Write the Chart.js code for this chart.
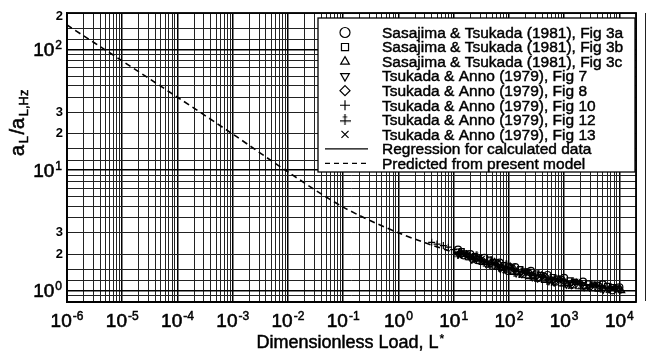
<!DOCTYPE html>
<html>
<head>
<meta charset="utf-8">
<script src="https://cdn.jsdelivr.net/npm/chart.js@4.4.0/dist/chart.umd.min.js"></script>
<style>
  html, body { margin: 0; background: #fff; overflow: hidden; }
  #chart { display: block; }
</style>
</head>
<body>
<canvas id="chart" width="647" height="352"></canvas>
<script>
// axis ranges and tick labels
const xMin = 1e-6, xMax = 2e4;
const yMin = 0.8, yMax = 200;
const xPowers = [-6, -5, -4, -3, -2, -1, 0, 1, 2, 3, 4];
const yPowers = [0, 1, 2];
const yMinorValues = [2, 3, 20, 30, 200];
const yMinorText = ['2', '3', '2', '3', '2'];
const xGridSteps = [1, 2, 3, 4, 5, 6, 7, 8, 9];
const yGridSteps = [1, 1.2, 1.5, 2, 3, 4, 5, 6, 7, 8, 9];

// measured points [L*, aL/aLHz]
const fig3a = [[12,2.18],[15,1.95],[20,2.0],[27,1.78],[36,1.86],[50,1.6],[68,1.7],[95,1.45],[130,1.56],[180,1.36],[250,1.45],[350,1.27],[500,1.34],[700,1.18],[1000,1.27],[1500,1.12],[2200,1.18],[3300,1.06],[5000,1.12],[7500,1.0],[10000,1.06]];
const fig3b = [[11,2.1],[14,2.12],[18,1.88],[24,1.92],[32,1.72],[44,1.8],[60,1.56],[82,1.62],[115,1.42],[160,1.5],[220,1.31],[310,1.38],[430,1.22],[620,1.29],[880,1.14],[1250,1.21],[1800,1.08],[2700,1.14],[4000,1.03],[6000,1.09],[9000,1.02]];
const fig3c = [[13,2.05],[17,1.98],[22,1.86],[30,1.82],[40,1.7],[55,1.72],[75,1.52],[105,1.58],[145,1.4],[200,1.42],[280,1.3],[390,1.33],[560,1.2],[800,1.24],[1150,1.13],[1650,1.16],[2400,1.07],[3600,1.1],[5400,1.03],[8200,1.05],[11000,0.99]];
const fig7 = [[12,2.0],[16,2.06],[21,1.8],[28,1.9],[38,1.66],[52,1.75],[70,1.5],[98,1.6],[135,1.38],[190,1.46],[265,1.28],[370,1.36],[530,1.19],[750,1.27],[1100,1.11],[1550,1.19],[2300,1.06],[3400,1.13],[5100,1.01],[7600,1.08]];
const fig8 = [[14,2.0],[19,1.92],[26,1.84],[34,1.76],[46,1.66],[64,1.66],[88,1.5],[120,1.52],[170,1.36],[235,1.4],[330,1.25],[460,1.3],[660,1.16],[940,1.22],[1350,1.1],[1950,1.15],[2900,1.05],[4300,1.1],[6500,1.02],[9800,1.04]];
const fig10 = [[4,2.5],[5,2.42],[6.5,2.35],[8,2.28],[10,2.18],[13,2.1],[17,2.02],[23,1.85],[31,1.8],[42,1.64],[58,1.68],[80,1.47],[110,1.54],[155,1.35],[215,1.41],[300,1.26],[420,1.31],[600,1.17],[860,1.22],[1250,1.1]];
const fig12 = [[12,1.95],[15,2.04],[20,1.84],[26,1.96],[35,1.68],[48,1.78],[66,1.53],[90,1.64],[125,1.4],[175,1.48],[245,1.29],[345,1.37],[490,1.2],[700,1.27],[1000,1.12],[1450,1.19],[2100,1.06],[3100,1.12],[4600,1.02],[7000,1.07],[10500,1.0]];
const fig13 = [[13,1.92],[18,2.0],[24,1.76],[33,1.84],[45,1.62],[62,1.7],[85,1.46],[118,1.57],[165,1.34],[230,1.44],[320,1.24],[450,1.32],[640,1.15],[910,1.23],[1300,1.08],[1900,1.16],[2800,1.04],[4200,1.1],[6300,1.0],[9500,1.06]];
// lines
const regression = [[10,2.02],[30,1.75],[100,1.50],[300,1.33],[1000,1.20],[3000,1.11],[10000,1.03]];
const predicted = [[1e-6,159],[1e-5,80],[1e-4,40],[1e-3,19.8],[1e-2,9.6],[1e-1,4.9],[1,3.0],[10,2.07],[100,1.55],[1000,1.23],[10000,1.05]];

const legendLabels = [
    'Sasajima & Tsukada (1981), Fig 3a',
    'Sasajima & Tsukada (1981), Fig 3b',
    'Sasajima & Tsukada (1981), Fig 3c',
    'Tsukada & Anno (1979), Fig 7',
    'Tsukada & Anno (1979), Fig 8',
    'Tsukada & Anno (1979), Fig 10',
    'Tsukada & Anno (1979), Fig 12',
    'Tsukada & Anno (1979), Fig 13',
    'Regression for calculated data',
    'Predicted from present model'
];

const FONT = '"Liberation Sans", Arial, sans-serif';

// "+" with an extra short bar, drawn on a small canvas
function makeDoubleCross(size, lw) {
    const c = document.createElement('canvas');
    c.width = size; c.height = size;
    const g = c.getContext('2d');
    g.strokeStyle = '#000';
    g.lineWidth = lw;
    const m = size / 2;
    g.beginPath();
    g.moveTo(m, 0); g.lineTo(m, size);
    g.moveTo(0, size * 0.6); g.lineTo(size, size * 0.6);
    g.moveTo(size * 0.3, size * 0.25); g.lineTo(size * 0.7, size * 0.25);
    g.stroke();
    return c;
}
const dblCrossSmall = makeDoubleCross(8, 1.2);
const dblCrossBig = makeDoubleCross(11, 1.2);

const toPts = arr => arr.map(p => ({ x: p[0], y: p[1] }));

// marker styles, in legend order
const markerStyles = [
    { pointStyle: 'circle', rotation: 0 },
    { pointStyle: 'rect', rotation: 0 },
    { pointStyle: 'triangle', rotation: 0 },
    { pointStyle: 'triangle', rotation: 180 },
    { pointStyle: 'rectRot', rotation: 0 },
    { pointStyle: 'cross', rotation: 0 },
    { pointStyle: dblCrossSmall, rotation: 0 },
    { pointStyle: 'crossRot', rotation: 0 }
];
const seriesData = [fig3a, fig3b, fig3c, fig7, fig8, fig10, fig12, fig13];

const datasets = seriesData.map((d, i) => ({
    label: legendLabels[i],
    data: toPts(d),
    showLine: false,
    pointStyle: markerStyles[i].pointStyle,
    rotation: markerStyles[i].rotation,
    pointRadius: 3.5,
    borderColor: '#000',
    backgroundColor: 'rgba(0,0,0,0)',
    borderWidth: 1.2
}));
datasets.push({
    label: legendLabels[8],
    data: toPts(regression),
    showLine: true,
    pointRadius: 0,
    borderColor: '#000',
    borderWidth: 1.3,
    tension: 0.3
});
datasets.push({
    label: legendLabels[9],
    data: toPts(predicted),
    showLine: true,
    pointRadius: 0,
    borderColor: '#000',
    borderWidth: 1.6,
    borderDash: [6, 4],
    tension: 0.3
});

// grid positions (1..9 per decade)
const xGrid = [];
for (let p = -6; p <= 4; p++) xGridSteps.forEach(s => xGrid.push(s * Math.pow(10, p)));
xGrid.push(xMax);
const yGrid = [yMin, 0.9];
for (let p = 0; p <= 2; p++) yGridSteps.forEach(s => { const v = s * Math.pow(10, p); if (v <= yMax) yGrid.push(v); });

function isPow10(v) {
    const l = Math.log10(v);
    return Math.abs(l - Math.round(l)) < 1e-9;
}

// text a bit heavier, like the printed figure
function inkText(ctx, s, x, y, w) {
    ctx.fillText(s, x, y);
    ctx.lineWidth = w;
    ctx.strokeStyle = '#000';
    ctx.strokeText(s, x, y);
}

// "10" with a raised exponent
function drawPower(ctx, p, x, baseline, align) {
    ctx.font = '19px ' + FONT;
    const w1 = ctx.measureText('10').width;
    ctx.font = '12px ' + FONT;
    const w2 = ctx.measureText(String(p)).width;
    const total = w1 + w2 + 1;
    const start = align === 'right' ? x - total : x - total / 2;
    ctx.textAlign = 'left';
    ctx.font = '19px ' + FONT;
    inkText(ctx, '10', start, baseline, 0.6);
    ctx.font = '12px ' + FONT;
    inkText(ctx, String(p), start + w1 + 1, baseline - 7, 0.5);
}

const paperPlugin = {
    id: 'paper',
    afterDraw(chart) {
        const ctx = chart.ctx;
        const a = chart.chartArea;
        const xs = chart.scales.x, ys = chart.scales.y;
        ctx.save();
        // frame
        ctx.strokeStyle = '#000';
        ctx.lineWidth = 1.8;
        ctx.strokeRect(a.left, a.top, a.right - a.left, a.bottom - a.top);

        // tick labels
        ctx.fillStyle = '#000';
        ctx.textBaseline = 'alphabetic';
        xPowers.forEach(p => drawPower(ctx, p, xs.getPixelForValue(Math.pow(10, p)), a.bottom + 25, 'center'));
        yPowers.forEach(p => drawPower(ctx, p, a.left - 5, ys.getPixelForValue(Math.pow(10, p)) + 7, 'right'));
        ctx.font = 'bold 13px ' + FONT;
        ctx.textAlign = 'right';
        ctx.textBaseline = 'middle';
        yMinorValues.forEach((v, i) => {
            const py = Math.max(ys.getPixelForValue(v), a.top + 3);
            ctx.fillText(yMinorText[i], a.left - 4, py);
        });

        // x title
        ctx.textBaseline = 'alphabetic';
        ctx.font = '18px ' + FONT;
        const t = 'Dimensionless Load, L';
        const tw = ctx.measureText(t).width;
        const tx = (a.left + a.right) / 2 - tw / 2 - 4;
        ctx.textAlign = 'left';
        inkText(ctx, t, tx, a.bottom + 46, 0.5);
        ctx.font = 'bold 12px ' + FONT;
        ctx.fillText('*', tx + tw + 1, a.bottom + 41);

        // y title, rotated
        ctx.save();
        ctx.translate(24, 122);
        ctx.rotate(-Math.PI / 2);
        const parts = [['a', 20, 0], ['L', 13, 4], ['/a', 20, 0], ['L,Hz', 13, 4]];
        let len = 0;
        parts.forEach(pt => { ctx.font = pt[1] + 'px ' + FONT; len += ctx.measureText(pt[0]).width + 1.5; });
        let cx = -len / 2;
        parts.forEach(pt => {
            ctx.font = pt[1] + 'px ' + FONT;
            inkText(ctx, pt[0], cx, pt[2], 0.5);
            cx += ctx.measureText(pt[0]).width + 1.5;
        });
        ctx.restore();

        // legend box
        const bx = 318, by = a.top + 5, bw = a.right - 1 - bx, bh = 154;
        ctx.fillStyle = '#fff';
        ctx.fillRect(bx, by, bw, bh);
        ctx.strokeStyle = '#000';
        ctx.lineWidth = 1.3;
        ctx.strokeRect(bx, by, bw, bh);
        ctx.font = '15.5px ' + FONT;
        ctx.textAlign = 'left';
        ctx.textBaseline = 'middle';
        legendLabels.forEach((lbl, i) => {
            const ry = by + 14.5 + i * 14.55;
            ctx.fillStyle = '#000';
            inkText(ctx, lbl, 382, ry + 1, 0.45);
            ctx.strokeStyle = '#000';
            if (i < 8) {
                const st = markerStyles[i];
                ctx.fillStyle = 'rgba(0,0,0,0)';
                ctx.lineWidth = 1.2;
                Chart.helpers.drawPoint(ctx, {
                    pointStyle: i === 6 ? dblCrossBig : st.pointStyle,
                    rotation: st.rotation,
                    radius: 5,
                    borderWidth: 1.2
                }, 345, ry);
            } else {
                ctx.lineWidth = 1.3;
                ctx.setLineDash(i === 9 ? [5, 4] : []);
                ctx.beginPath();
                ctx.moveTo(325, ry);
                ctx.lineTo(368, ry);
                ctx.stroke();
                ctx.setLineDash([]);
            }
        });
        ctx.restore();
    }
};

const gridColor = c => isPow10(c.tick.value) ? '#000' : '#222';
const gridWidth = c => isPow10(c.tick.value) ? 1.5 : 1;

new Chart(document.getElementById('chart'), {
    type: 'scatter',
    data: { datasets: datasets },
    options: {
        responsive: false,
        animation: false,
        devicePixelRatio: 1,
        layout: { padding: { left: 67, top: 13, right: 11, bottom: 50 } },
        plugins: { legend: { display: false }, tooltip: { enabled: false } },
        scales: {
            x: {
                type: 'logarithmic',
                min: xMin, max: xMax,
                afterBuildTicks: s => { s.ticks = xGrid.map(v => ({ value: v })); },
                ticks: { display: false },
                grid: { color: gridColor, lineWidth: gridWidth, drawTicks: false },
                border: { display: true, color: '#000', width: 1.6 }
            },
            y: {
                type: 'logarithmic',
                min: yMin, max: yMax,
                afterBuildTicks: s => { s.ticks = yGrid.map(v => ({ value: v })); },
                ticks: { display: false },
                grid: { color: gridColor, lineWidth: gridWidth, drawTicks: false },
                border: { display: true, color: '#000', width: 1.6 }
            }
        }
    },
    plugins: [paperPlugin]
});
</script>
</body>
</html>
